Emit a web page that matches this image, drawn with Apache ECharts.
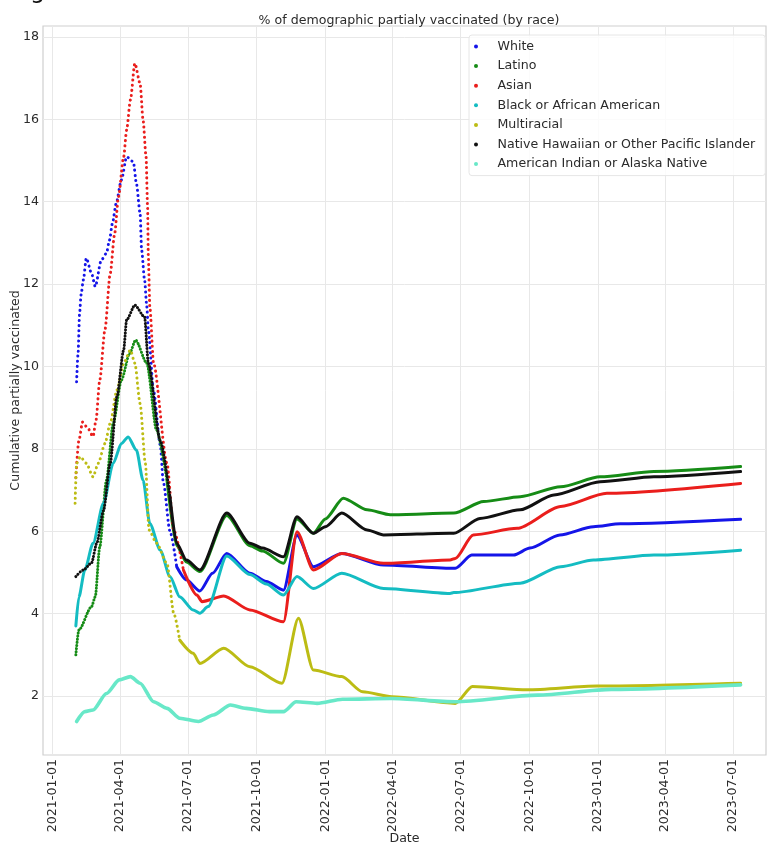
<!DOCTYPE html>
<html>
<head>
<meta charset="utf-8">
<script src="https://cdn.jsdelivr.net/npm/echarts@6/dist/echarts.min.js"></script>
<style>
  html, body { margin: 0; padding: 0; background: #ffffff; }
  #chart { width: 767px; height: 844px; }
</style>
</head>
<body>
<div id="chart"></div>
<script>
// Share of each demographic that is partially vaccinated, by race.
const races = [
  'White',
  'Latino',
  'Asian',
  'Black or African American',
  'Multiracial',
  'Native Hawaiian or Other Pacific Islander',
  'American Indian or Alaska Native'
];

const white = [
  ['2021-02-02', 9.63], ['2021-02-04', 10.32], ['2021-02-06', 11.29], ['2021-02-08', 11.74],
  ['2021-02-11', 12.1], ['2021-02-15', 12.63], ['2021-02-22', 12.26], ['2021-02-27', 11.94],
  ['2021-03-07', 12.58], ['2021-03-14', 12.75], ['2021-03-18', 13.07], ['2021-03-22', 13.48],
  ['2021-03-27', 13.96], ['2021-04-03', 14.53], ['2021-04-10', 15.09], ['2021-04-19', 14.97],
  ['2021-04-23', 14.45], ['2021-04-28', 13.72], ['2021-04-30', 12.83], ['2021-05-04', 12.1],
  ['2021-05-07', 11.45], ['2021-05-09', 10.89], ['2021-05-16', 9.4], ['2021-05-25', 8.1],
  ['2021-05-29', 7.2], ['2021-06-07', 6.0], ['2021-06-16', 5.14], ['2021-06-29', 4.82],
  ['2021-07-17', 4.55], ['2021-08-03', 4.98], ['2021-08-22', 5.46], ['2021-09-22', 4.98],
  ['2021-10-14', 4.78], ['2021-11-06', 4.57], ['2021-11-24', 5.9], ['2021-12-16', 5.14],
  ['2022-01-23', 5.46], ['2022-03-20', 5.18], ['2022-06-24', 5.1], ['2022-07-16', 5.42],
  ['2022-09-10', 5.42], ['2022-10-02', 5.59], ['2022-11-11', 5.91], ['2022-12-26', 6.11],
  ['2023-01-31', 6.18], ['2023-07-11', 6.29]
];

const latino = [
  ['2021-02-01', 3.0], ['2021-02-05', 3.6], ['2021-02-22', 4.17], ['2021-02-27', 4.41],
  ['2021-03-05', 5.62], ['2021-03-14', 7.24], ['2021-03-23', 8.62], ['2021-04-03', 9.67],
  ['2021-04-14', 10.32], ['2021-04-22', 10.64], ['2021-05-07', 10.08], ['2021-05-20', 8.46],
  ['2021-06-03', 7.24], ['2021-06-16', 5.65], ['2021-06-29', 5.25], ['2021-07-17', 5.02],
  ['2021-08-22', 6.38], ['2021-09-22', 5.65], ['2021-10-09', 5.52], ['2021-11-06', 5.22],
  ['2021-11-24', 6.3], ['2021-12-16', 5.95], ['2022-01-01', 6.3], ['2022-01-25', 6.8],
  ['2022-02-26', 6.52], ['2022-03-29', 6.4], ['2022-06-22', 6.44], ['2022-08-01', 6.72],
  ['2022-09-19', 6.84], ['2022-11-12', 7.08], ['2023-01-04', 7.32], ['2023-03-17', 7.45],
  ['2023-07-11', 7.57]
];

const asian = [
  ['2021-02-01', 7.3], ['2021-02-05', 8.2], ['2021-02-10', 8.65], ['2021-02-17', 8.5],
  ['2021-02-24', 8.3], ['2021-02-28', 8.7], ['2021-03-05', 9.67], ['2021-03-12', 10.9],
  ['2021-03-19', 12.26], ['2021-03-25', 13.23], ['2021-03-30', 14.12], ['2021-04-06', 15.09],
  ['2021-04-10', 15.74], ['2021-04-15', 16.47], ['2021-04-21', 17.36], ['2021-04-28', 16.87],
  ['2021-05-02', 15.98], ['2021-05-06', 15.09], ['2021-05-08', 13.88], ['2021-05-09', 12.67],
  ['2021-05-11', 11.45], ['2021-05-16', 10.08], ['2021-06-03', 7.65], ['2021-06-12', 6.03],
  ['2021-06-25', 5.06], ['2021-07-13', 4.45], ['2021-07-20', 4.29], ['2021-08-18', 4.43],
  ['2021-09-22', 4.09], ['2021-11-06', 3.8], ['2021-11-24', 5.99], ['2021-12-16', 5.06],
  ['2022-01-23', 5.46], ['2022-03-20', 5.22], ['2022-06-17', 5.3], ['2022-06-24', 5.34],
  ['2022-07-18', 5.91], ['2022-09-15', 6.07], ['2022-11-12', 6.6], ['2023-01-13', 6.92],
  ['2023-07-11', 7.16]
];

const blackAfricanAmerican = [
  ['2021-02-01', 3.7], ['2021-02-05', 4.4], ['2021-02-13', 5.06], ['2021-02-24', 5.71],
  ['2021-03-10', 6.68], ['2021-03-23', 7.65], ['2021-04-03', 8.13], ['2021-04-12', 8.29],
  ['2021-04-23', 7.97], ['2021-05-02', 7.24], ['2021-05-11', 6.19], ['2021-05-25', 5.54],
  ['2021-06-07', 4.9], ['2021-06-20', 4.41], ['2021-07-08', 4.09], ['2021-07-17', 4.01],
  ['2021-07-28', 4.17], ['2021-08-22', 5.4], ['2021-09-22', 4.95], ['2021-10-14', 4.72],
  ['2021-11-06', 4.45], ['2021-11-24', 4.9], ['2021-12-16', 4.61], ['2022-01-23', 4.98],
  ['2022-03-20', 4.61], ['2022-06-17', 4.49], ['2022-06-22', 4.51], ['2022-09-19', 4.74],
  ['2022-11-12', 5.14], ['2022-12-26', 5.3], ['2023-03-17', 5.42], ['2023-07-11', 5.54]
];

const multiracial = [
  ['2021-01-31', 6.68], ['2021-02-02', 7.65], ['2021-02-07', 7.81], ['2021-02-15', 7.65],
  ['2021-02-24', 7.32], ['2021-03-03', 7.65], ['2021-03-12', 8.13], ['2021-03-19', 8.62],
  ['2021-03-28', 9.43], ['2021-04-06', 10.08], ['2021-04-15', 10.4], ['2021-04-21', 10.08],
  ['2021-04-28', 9.1], ['2021-05-05', 7.65], ['2021-05-10', 6.03], ['2021-05-20', 5.71],
  ['2021-06-03', 5.22], ['2021-06-12', 4.01], ['2021-06-20', 3.36], ['2021-07-08', 3.04],
  ['2021-07-17', 2.79], ['2021-08-18', 3.16], ['2021-09-22', 2.71], ['2021-11-04', 2.31],
  ['2021-11-26', 3.89], ['2021-12-16', 2.63], ['2022-01-23', 2.47], ['2022-02-20', 2.1],
  ['2022-03-31', 1.98], ['2022-06-24', 1.82], ['2022-07-17', 2.23], ['2022-09-28', 2.15],
  ['2022-12-31', 2.24], ['2023-07-11', 2.31]
];

const nativeHawaiianPacificIslander = [
  ['2021-02-01', 4.9], ['2021-02-11', 5.06], ['2021-02-22', 5.23], ['2021-03-01', 5.71],
  ['2021-03-10', 6.5], ['2021-03-19', 7.65], ['2021-03-28', 9.27], ['2021-04-06', 10.4],
  ['2021-04-10', 11.13], ['2021-04-21', 11.49], ['2021-05-04', 11.2], ['2021-05-09', 10.08],
  ['2021-05-25', 8.2], ['2021-06-07', 6.84], ['2021-06-16', 5.7], ['2021-06-29', 5.3],
  ['2021-07-17', 5.06], ['2021-08-22', 6.44], ['2021-09-22', 5.71], ['2021-10-09', 5.59],
  ['2021-11-06', 5.38], ['2021-11-24', 6.35], ['2021-12-16', 5.95], ['2022-01-01', 6.11],
  ['2022-01-23', 6.44], ['2022-02-26', 6.03], ['2022-03-20', 5.91], ['2022-06-17', 5.95],
  ['2022-06-22', 5.95], ['2022-07-27', 6.31], ['2022-09-19', 6.52], ['2022-11-03', 6.88],
  ['2023-01-04', 7.2], ['2023-03-17', 7.32], ['2023-07-11', 7.45]
];

const americanIndianAlaskaNative = [
  ['2021-02-02', 1.38], ['2021-02-13', 1.62], ['2021-02-24', 1.66], ['2021-03-14', 2.06],
  ['2021-03-31', 2.39], ['2021-04-15', 2.47], ['2021-04-28', 2.31], ['2021-05-16', 1.86],
  ['2021-06-03', 1.7], ['2021-06-20', 1.46], ['2021-07-15', 1.38], ['2021-08-04', 1.54],
  ['2021-08-27', 1.78], ['2021-09-17', 1.7], ['2021-10-18', 1.62], ['2021-11-06', 1.62],
  ['2021-11-23', 1.86], ['2021-12-21', 1.82], ['2022-01-24', 1.92], ['2022-03-30', 1.94],
  ['2022-06-24', 1.86], ['2022-10-12', 2.02], ['2023-01-19', 2.16], ['2023-07-11', 2.27]
];

const xTickDates = [
  '2021-01-01', '2021-04-01', '2021-07-01', '2021-10-01', '2022-01-01', '2022-04-01',
  '2022-07-01', '2022-10-01', '2023-01-01', '2023-04-01', '2023-07-01'
];
const yTickValues = [2, 4, 6, 8, 10, 12, 14, 16, 18];

// Drawing styles per series: colour, plus the early stretch drawn as a dotted trail.
const seriesStyles = [
  { data: white, color: '#1515e8', dottedUntil: '2021-06-16', gap: 5 },
  { data: latino, color: '#168c16', dottedUntil: '2021-06-03', gap: 3 },
  { data: asian, color: '#ea1e1c', dottedUntil: '2021-06-25', gap: 5 },
  { data: blackAfricanAmerican, color: '#14bcc2', dottedUntil: null, gap: 0 },
  { data: multiracial, color: '#bcbc14', dottedUntil: '2021-06-20', gap: 5 },
  { data: nativeHawaiianPacificIslander, color: '#111111', dottedUntil: '2021-06-07', gap: 3 },
  { data: americanIndianAlaskaNative, color: '#68e8c8', dottedUntil: null, gap: 0, width: 3.6 }
];

const FONT = 'DejaVu Sans';
const FONT_SIZE = 12.6;
const TEXT_COLOR = '#2b2b2b';
// Dates are placed on a numeric axis as UTC millisecond timestamps.
const t = (s) => Date.parse(s + 'T00:00:00Z');
const toPoints = (rows) => rows.map(r => [t(r[0]), r[1]]);
const fmtDate = (ms) => new Date(ms).toISOString().slice(0, 10);

const series = [];
seriesStyles.forEach((st, i) => {
  const name = races[i];
  const width = st.width || 3;
  const base = {
    name, type: 'line', showSymbol: false, symbol: 'none',
    smooth: 0.25, smoothMonotone: 'x',
    itemStyle: { color: st.color }, emphasis: { disabled: true },
    silent: true, animation: false, z: 2 + i
  };
  if (st.dottedUntil) {
    series.push(Object.assign({}, base, {
      data: toPoints(st.data.filter(d => d[0] <= st.dottedUntil)),
      lineStyle: { color: st.color, width: 3, type: [0.1, st.gap], cap: 'round', join: 'round' }
    }));
    series.push(Object.assign({}, base, {
      data: toPoints(st.data.filter(d => d[0] >= st.dottedUntil)),
      lineStyle: { color: st.color, width, cap: 'round', join: 'round' }
    }));
  } else {
    series.push(Object.assign({}, base, {
      data: toPoints(st.data),
      lineStyle: { color: st.color, width, cap: 'round', join: 'round' }
    }));
  }
});

const chart = echarts.init(document.getElementById('chart'), null, { renderer: 'canvas' });
chart.setOption({
  animation: false,
  backgroundColor: '#ffffff',
  title: {
    text: '% of demographic partialy vaccinated (by race)',
    left: 404, top: 9, textAlign: 'center',
    textStyle: { fontFamily: FONT, fontSize: FONT_SIZE, fontWeight: 'normal', color: TEXT_COLOR }
  },
  graphic: [{
    type: 'text', left: 30, top: -20, silent: true,
    style: { text: 'g', fontFamily: FONT, fontSize: 24, fill: '#111111' }
  }],
  legend: {
    data: races, orient: 'vertical', left: 469, top: 35,
    icon: 'circle', itemWidth: 33, itemHeight: 4, itemGap: 6.6,
    padding: [5, 10, 5, 5],
    backgroundColor: 'rgba(255,255,255,0.8)', borderColor: '#e6e6e6', borderWidth: 1, borderRadius: 3,
    selectedMode: false,
    textStyle: { fontFamily: FONT, fontSize: FONT_SIZE, lineHeight: 12, color: TEXT_COLOR }
  },
  grid: {
    left: 43, right: 1, top: 26, bottom: 89, containLabel: false, outerBoundsMode: 'none',
    show: true, borderColor: '#cfcfcf', borderWidth: 1.2
  },
  xAxis: {
    type: 'value', min: t('2020-12-19'), max: t('2023-08-14'),
    name: 'Date', nameLocation: 'middle', nameGap: 77, nameMoveOverlap: false,
    nameTextStyle: { fontFamily: FONT, fontSize: FONT_SIZE, color: TEXT_COLOR },
    axisLine: { show: false },
    axisTick: { show: false, customValues: xTickDates.map(t) },
    axisLabel: {
      customValues: xTickDates.map(t), rotate: 90, margin: 4, hideOverlap: false,
      fontFamily: FONT, fontSize: FONT_SIZE, color: TEXT_COLOR,
      formatter: (v) => fmtDate(v)
    },
    splitLine: { show: true, lineStyle: { color: '#e8e8e8', width: 1 } }
  },
  yAxis: {
    type: 'value', min: 0.567, max: 18.267,
    name: 'Cumulative partially vaccinated', nameLocation: 'middle', nameGap: 21, nameRotate: 90,
    nameMoveOverlap: false,
    nameTextStyle: { fontFamily: FONT, fontSize: FONT_SIZE, color: TEXT_COLOR },
    axisLine: { show: false },
    axisTick: { show: false, customValues: yTickValues },
    axisLabel: {
      customValues: yTickValues, margin: 4, hideOverlap: false,
      fontFamily: FONT, fontSize: FONT_SIZE, color: TEXT_COLOR,
      formatter: (v) => String(v)
    },
    splitLine: { show: true, lineStyle: { color: '#e8e8e8', width: 1 } }
  },
  series
});
</script>
</body>
</html>
